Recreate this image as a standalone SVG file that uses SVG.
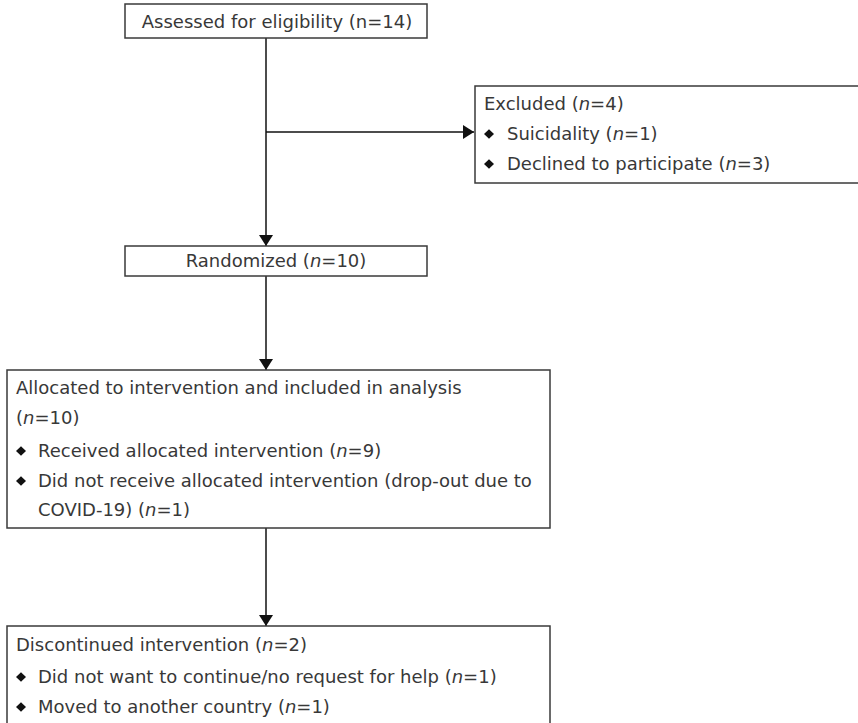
<svg xmlns="http://www.w3.org/2000/svg" width="858" height="723" viewBox="0 0 858 723">
<style>
.box{fill:#fff;stroke:#3a3a3a;stroke-width:1.5}
.t{font-family:"DejaVu Sans","Liberation Sans",Arial,sans-serif;font-size:18px;fill:#383838}
.c{text-anchor:middle}
.ln{stroke:#111;stroke-width:1.5;fill:none}
.dm{fill:#111}
</style>
<defs>
<marker id="ahv" viewBox="0 0 10 10" refX="10" refY="5" markerWidth="11" markerHeight="14" markerUnits="userSpaceOnUse" orient="auto" preserveAspectRatio="none">
<path d="M0,0 L10,5 L0,10 Z" fill="#111"/>
</marker>
<path id="d" d="M0,-4.8 L5,0 L0,4.8 L-5,0 Z"/>
</defs>
<g id="connectors">
<line class="ln" x1="266" y1="38" x2="266" y2="246" marker-end="url(#ahv)"/>
<line class="ln" x1="266" y1="132" x2="474" y2="132" marker-end="url(#ahv)"/>
<line class="ln" x1="266" y1="276" x2="266" y2="370" marker-end="url(#ahv)"/>
<line class="ln" x1="266" y1="528" x2="266" y2="626" marker-end="url(#ahv)"/>
</g>
<g id="assessed">
<rect class="box" x="125" y="4" width="302" height="34"/>
<text class="t c" x="277" y="28">Assessed for eligibility (n=14)</text>
</g>
<g id="excluded">
<rect class="box" x="475" y="86" width="390" height="97"/>
<text class="t" x="484" y="110">Excluded (<tspan font-style="italic">n</tspan>=4)</text>
<use href="#d" class="dm" x="489" y="134"/>
<text class="t" x="507" y="140">Suicidality (<tspan font-style="italic">n</tspan>=1)</text>
<use href="#d" class="dm" x="489" y="164"/>
<text class="t" x="507" y="170">Declined to participate (<tspan font-style="italic">n</tspan>=3)</text>
</g>
<g id="randomized">
<rect class="box" x="125" y="246" width="302" height="30"/>
<text class="t c" x="276" y="267">Randomized (<tspan font-style="italic">n</tspan>=10)</text>
</g>
<g id="allocated">
<rect class="box" x="7" y="370" width="543" height="158"/>
<text class="t" x="16" y="394">Allocated to intervention and included in analysis</text>
<text class="t" x="16" y="424">(<tspan font-style="italic">n</tspan>=10)</text>
<use href="#d" class="dm" x="21" y="451"/>
<text class="t" x="38" y="457">Received allocated intervention (<tspan font-style="italic">n</tspan>=9)</text>
<use href="#d" class="dm" x="21" y="481"/>
<text class="t" x="38" y="487">Did not receive allocated intervention (drop-out due to</text>
<text class="t" x="38" y="516">COVID-19) (<tspan font-style="italic">n</tspan>=1)</text>
</g>
<g id="discontinued">
<rect class="box" x="7" y="626" width="543" height="101"/>
<text class="t" x="16" y="651">Discontinued intervention (<tspan font-style="italic">n</tspan>=2)</text>
<use href="#d" class="dm" x="21" y="677"/>
<text class="t" x="38" y="683">Did not want to continue/no request for help (<tspan font-style="italic">n</tspan>=1)</text>
<use href="#d" class="dm" x="21" y="707"/>
<text class="t" x="38" y="713">Moved to another country (<tspan font-style="italic">n</tspan>=1)</text>
</g>
</svg>
